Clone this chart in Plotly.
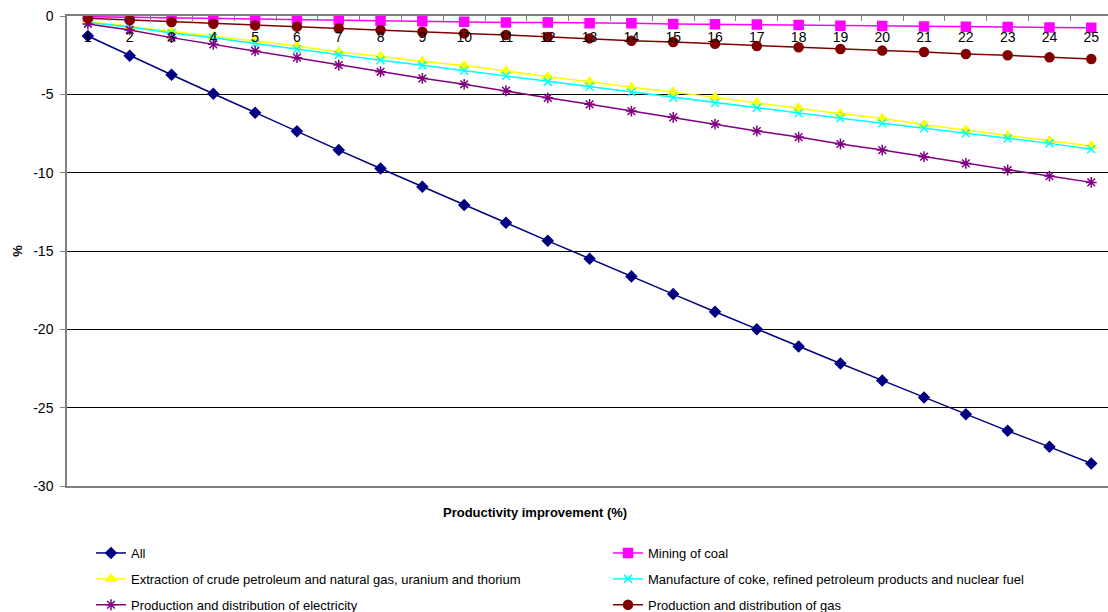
import plotly.graph_objects as go

categories = [str(i) for i in range(1, 26)]
y_tickvals = [0, -5, -10, -15, -20, -25, -30]
y_ticktext = ["0", "-5", "-10", "-15", "-20", "-25", "-30"]

all_sectors = [-1.28, -2.53, -3.75, -4.96, -6.17, -7.36, -8.56, -9.73, -10.90, -12.07,
               -13.20, -14.35, -15.50, -16.62, -17.75, -18.88, -19.99, -21.09, -22.18, -23.26,
               -24.35, -25.42, -26.48, -27.50, -28.56]
mining_coal = [-0.04, -0.08, -0.11, -0.14, -0.18, -0.21, -0.26, -0.31, -0.34, -0.36,
               -0.42, -0.41, -0.46, -0.47, -0.51, -0.53, -0.55, -0.57, -0.62, -0.64,
               -0.67, -0.68, -0.70, -0.74, -0.75]
extraction = [-0.35, -0.66, -0.95, -1.30, -1.58, -1.92, -2.30, -2.57, -2.90, -3.16,
              -3.51, -3.88, -4.19, -4.55, -4.85, -5.19, -5.54, -5.87, -6.24, -6.53,
              -6.94, -7.28, -7.64, -7.96, -8.30]
coke_petroleum = [-0.42, -0.70, -1.08, -1.39, -1.75, -2.12, -2.48, -2.83, -3.15, -3.49,
                  -3.83, -4.19, -4.51, -4.87, -5.21, -5.55, -5.86, -6.21, -6.53, -6.85,
                  -7.17, -7.49, -7.81, -8.13, -8.50]
electricity = [-0.51, -0.89, -1.38, -1.81, -2.23, -2.66, -3.13, -3.56, -3.98, -4.36,
               -4.77, -5.22, -5.64, -6.07, -6.47, -6.90, -7.34, -7.73, -8.17, -8.56,
               -8.98, -9.41, -9.83, -10.22, -10.62]
gas = [-0.15, -0.26, -0.38, -0.49, -0.60, -0.68, -0.79, -0.89, -1.00, -1.11,
       -1.21, -1.34, -1.43, -1.58, -1.66, -1.77, -1.92, -2.00, -2.11, -2.21,
       -2.30, -2.43, -2.51, -2.64, -2.75]

series = [
    ("All", all_sectors, "#000080", "diamond", 8, "legend"),
    ("Mining of coal", mining_coal, "#FF00FF", "square", 9, "legend2"),
    ("Extraction of crude petroleum and natural gas, uranium and thorium", extraction, "#FFFF00", "triangle-up", 9, "legend"),
    ("Manufacture of coke, refined petroleum products and nuclear fuel", coke_petroleum, "#00FFFF", "x-thin-open", 8, "legend2"),
    ("Production and distribution of electricity", electricity, "#800080", "asterisk-open", 9, "legend"),
    ("Production and distribution of gas", gas, "#800000", "circle", 9, "legend2"),
]

fig = go.Figure()
for i, (name, vals, color, sym, size, leg) in enumerate(series):
    fig.add_trace(go.Scatter(
        x=categories, y=vals, name=name, mode="lines+markers",
        line=dict(color=color, width=1.5),
        marker=dict(symbol=sym, size=size, color=color, line=dict(color=color, width=1.5)),
        legend=leg, legendgroup=f"g{i}",
    ))

FONT = "Liberation Sans, Arial, sans-serif"
L, T, R, B = 67, 16, 1108, 486
PW, PH = R - L, B - T

fig.update_layout(
    width=1108, height=612,
    margin=dict(l=L, r=1108 - R, t=T, b=612 - B, autoexpand=False),
    paper_bgcolor="white", plot_bgcolor="white",
    font=dict(family=FONT, size=13, color="black"),
    showlegend=True,
    legend=dict(x=(91 - L) / PW, xanchor="left", y=(B - 538) / PH, yanchor="top",
                traceorder="grouped", tracegroupgap=6, font=dict(size=13),
                itemclick=False, bgcolor="rgba(0,0,0,0)"),
    legend2=dict(x=(608 - L) / PW, xanchor="left", y=(B - 538) / PH, yanchor="top",
                 traceorder="grouped", tracegroupgap=6, font=dict(size=13),
                 itemclick=False, bgcolor="rgba(0,0,0,0)"),
    xaxis=dict(
        type="category", side="top", range=[-0.5, 24.4],
        showline=True, linecolor="#808080", linewidth=2, mirror=True,
        ticks="inside", ticklen=5, tickcolor="#808080", tickson="boundaries",
        ticklabelstandoff=-34, tickfont=dict(size=14),
        showgrid=False, zeroline=False,
    ),
    yaxis=dict(
        range=[-30, 0], tickvals=y_tickvals, ticktext=y_ticktext, tickfont=dict(size=14),
        showline=True, linecolor="#808080", linewidth=1.5,
        ticks="outside", ticklen=5, tickcolor="#808080", ticklabelstandoff=4,
        showgrid=True, gridcolor="black", gridwidth=1, zeroline=False,
        title=dict(text="<b>%</b>", font=dict(size=13), standoff=8),
    ),
    annotations=[dict(text="<b>Productivity improvement (%)</b>",
                      x=(535 - L) / PW, y=(B - 512) / PH,
                      xref="paper", yref="paper", showarrow=False, font=dict(size=13),
                      xanchor="center", yanchor="middle")],
)

fig.write_html("out.html", config={"displayModeBar": False},
               post_script="document.body.style.margin='0px';")
